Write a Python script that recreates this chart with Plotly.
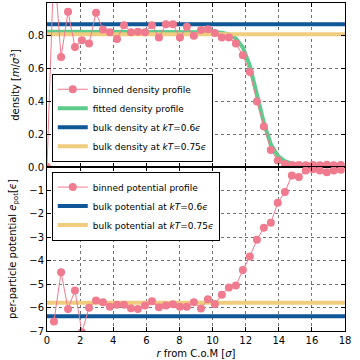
import plotly.graph_objects as go
from plotly.subplots import make_subplots

# ── Design tokens ─────────────────────────────────────────────────────────────
FONT   = "DejaVu Sans, sans-serif"
PINK   = "#F07A8E"
GREEN  = "#5DCB8C"
BLUE   = "#0F5797"
YELLOW = "#F0CC7E"
GRID   = "rgba(0,0,0,0.55)"

# ── Data ──────────────────────────────────────────────────────────────────────
r_bins = [0.0, 0.42, 0.85, 1.27, 1.69, 2.11, 2.54, 2.96, 3.38, 3.80, 4.23,
          4.65, 5.07, 5.49, 5.92, 6.34, 6.76, 7.18, 7.61, 8.03, 8.45, 8.87,
          9.30, 9.72, 10.14, 10.56, 10.99, 11.41, 11.83, 12.25, 12.68, 13.10,
          13.52, 13.94, 14.37, 14.79, 15.21, 15.63, 16.06, 16.48, 16.90,
          17.32, 17.75]

density_binned = [0.0, 1.25, 0.67, 0.947, 0.732, 0.773, 0.753, 0.94, 0.838,
                  0.822, 0.781, 0.865, 0.822, 0.825, 0.822, 0.865, 0.79, 0.87,
                  0.87, 0.79, 0.855, 0.80, 0.835, 0.84, 0.817, 0.79, 0.79,
                  0.753, 0.681, 0.579, 0.40, 0.247, 0.104, 0.04, 0.018, 0.012,
                  0.012, 0.010, 0.012, 0.011, 0.013, 0.011, 0.012]

density_fitted = [0.825, 0.825, 0.825, 0.825, 0.825, 0.825, 0.825, 0.825,
                  0.825, 0.825, 0.825, 0.825, 0.825, 0.825, 0.825, 0.825,
                  0.825, 0.825, 0.825, 0.825, 0.825, 0.825, 0.825, 0.824,
                  0.822, 0.818, 0.808, 0.783, 0.728, 0.618, 0.45, 0.269, 0.138,
                  0.068, 0.035, 0.021, 0.016, 0.014, 0.013, 0.012, 0.012,
                  0.012, 0.012]

potential_binned = [None, -6.59, -4.49, -6.06, -5.27, -7.05, -6.01, -5.70,
                    -5.77, -5.96, -5.88, -5.88, -6.03, -6.06, -5.91, -5.73,
                    -5.99, -5.91, -5.86, -5.97, -5.96, -5.77, -6.04, -5.65,
                    -5.85, -5.45, -5.14, -5.06, -4.40, -3.82, -3.11, -2.59,
                    -2.38, -1.53, -1.07, -0.36, -0.43, -0.15, -0.10, -0.15,
                    -0.22, -0.15, -0.12]

bulk_density   = {"0.6": 0.871, "0.75": 0.810}
bulk_potential = {"0.6": -6.37, "0.75": -5.79}
bulk_colors    = {"0.6": BLUE, "0.75": YELLOW}

x_span = [0, 18]

# ── Figure ────────────────────────────────────────────────────────────────────
fig = make_subplots(rows=2, cols=1, shared_xaxes=True, vertical_spacing=0)

fig.add_trace(go.Scatter(
    x=r_bins, y=density_fitted, mode="lines", name="fitted density profile",
    line=dict(color=GREEN, width=4), legend="legend", legendrank=2,
), row=1, col=1)

for i, (kt, val) in enumerate(bulk_density.items()):
    fig.add_trace(go.Scatter(
        x=x_span, y=[val, val], mode="lines",
        name=f"bulk density at <i>kT</i>={kt}<i>ϵ</i>",
        line=dict(color=bulk_colors[kt], width=4), legend="legend",
        legendrank=3 + i,
    ), row=1, col=1)

fig.add_trace(go.Scatter(
    x=r_bins, y=density_binned, mode="lines+markers",
    name="binned density profile",
    line=dict(color=PINK, width=1), marker=dict(color=PINK, size=8),
    legend="legend", legendrank=1,
), row=1, col=1)

for i, (kt, val) in enumerate(bulk_potential.items()):
    fig.add_trace(go.Scatter(
        x=x_span, y=[val, val], mode="lines",
        name=f"bulk potential at <i>kT</i>={kt}<i>ϵ</i>",
        line=dict(color=bulk_colors[kt], width=4), legend="legend2",
        legendrank=2 + i,
    ), row=2, col=1)

fig.add_trace(go.Scatter(
    x=r_bins, y=potential_binned, mode="lines+markers",
    name="binned potential profile",
    line=dict(color=PINK, width=1), marker=dict(color=PINK, size=8),
    legend="legend2", legendrank=1,
), row=2, col=1)

axis_common = dict(
    showgrid=True, gridcolor=GRID, griddash="dot", gridwidth=1,
    showline=True, linecolor="black", linewidth=1, mirror="allticks",
    ticks="inside", ticklen=4, tickcolor="black",
    zeroline=False, tickfont=dict(size=10, color="black"),
)

fig.update_xaxes(**axis_common, range=[0, 18], dtick=2)
fig.update_xaxes(showticklabels=False, row=1, col=1)
fig.update_xaxes(
    title=dict(text="<i>r</i> from C.o.M [<i>σ</i>]", font=dict(size=10), standoff=4),
    row=2, col=1,
)
fig.update_yaxes(**axis_common)
fig.update_yaxes(
    range=[0, 1], tickvals=[0, 0.2, 0.4, 0.6, 0.8, 1.0], tickformat=".1f",
    title=dict(text="density [<i>m</i>/<i>σ</i><sup>3</sup>]", font=dict(size=10), standoff=6),
    row=1, col=1,
)
fig.update_yaxes(
    range=[-7, 0], tickvals=[-7, -6, -5, -4, -3, -2, -1],
    title=dict(text="per-particle potential <i>e</i><sub>pot</sub>[<i>ϵ</i>]",
               font=dict(size=10), standoff=10),
    row=2, col=1,
)

legend_style = dict(
    bgcolor="white", bordercolor="black", borderwidth=1,
    font=dict(size=9, family=FONT, color="black"),
    xanchor="left", x=0.016, tracegroupgap=0, itemwidth=30,
)

fig.update_layout(
    width=360, height=360,
    font=dict(family=FONT, color="black"),
    paper_bgcolor="white", plot_bgcolor="white",
    margin=dict(l=47, r=15, t=3, b=29, autoexpand=False),
    showlegend=True,
    legend=dict(**legend_style, yanchor="bottom", y=0.516),
    legend2=dict(**legend_style, yanchor="top", y=0.486),
)

fig.write_html("out.html", config={"displayModeBar": False},
               post_script="document.body.style.margin='0';")
